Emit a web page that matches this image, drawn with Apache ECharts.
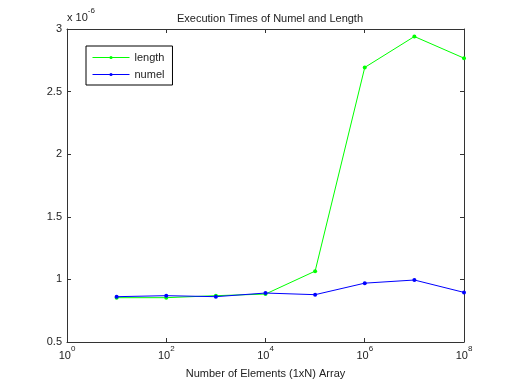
<!DOCTYPE html>
<html><head><meta charset="utf-8">
<script src="https://cdn.jsdelivr.net/npm/echarts@6/dist/echarts.min.js"></script>
<style>html,body{margin:0;padding:0;background:#fff}#c{width:512px;height:384px}</style>
</head><body><div id="c"></div>
<script>
// x values: number of elements N
var sizes = [1e1, 1e2, 1e3, 1e4, 1e5, 1e6, 1e7, 1e8];
// seconds, in units of 1e-6
var lengthTimes = [0.854, 0.854, 0.870, 0.883, 1.066, 2.693, 2.940, 2.767];
var numelTimes  = [0.862, 0.870, 0.862, 0.891, 0.878, 0.970, 0.995, 0.896];
var yTicks = [0.5, 1, 1.5, 2, 2.5, 3];

var font = 'Liberation Sans, Arial, sans-serif';
var txt = '#222';
function pairs(xs, ys){ return xs.map(function(x,i){ return [x, ys[i]]; }); }
function expLabel(v){
  var e = Math.round(Math.log(v)/Math.LN10);
  return '{b|10}{s|' + e + '}';
}
var rich = {
  b:{fontSize:11, fontFamily:font, color:txt, verticalAlign:'bottom', lineHeight:16},
  s:{fontSize:8, fontFamily:font, color:txt, verticalAlign:'top', lineHeight:16}
};
var axLine = {show:true, lineStyle:{color:'#333', width:1}};
var chart = echarts.init(document.getElementById('c'));
chart.setOption({
  animation:false,
  backgroundColor:'#fff',
  title:{text:'Execution Times of Numel and Length', left:265, textAlign:'center', top:8,
    textStyle:{fontSize:11, fontWeight:'normal', fontFamily:font, color:txt}},
  grid:{left:67, right:48, top:29, bottom:42},
  legend:{orient:'vertical', left:86, top:46, itemWidth:37, itemHeight:4, itemGap:6,
    padding:[6,8,5,6], borderColor:'#000', borderWidth:1, backgroundColor:'#fff',
    lineStyle:{width:1}, borderRadius:0,
    textStyle:{fontSize:11, fontFamily:font, color:txt},
    data:['length','numel']},
  xAxis:[{
    type:'log', logBase:10, min:1, max:1e8, interval:2,
    name:'Number of Elements (1xN) Array', nameLocation:'middle', nameGap:26,
    nameTextStyle:{fontSize:11, fontFamily:font, color:txt},
    axisLine:axLine, axisTick:{show:true, inside:true, length:4, lineStyle:{color:'#333'}},
    splitLine:{show:false}, minorTick:{show:false},
    axisLabel:{formatter:expLabel, rich:rich, margin:3}
  },{
    type:'log', logBase:10, min:1, max:1e8, interval:2, position:'top',
    axisLine:axLine, axisTick:{show:true, inside:true, length:4, lineStyle:{color:'#333'}},
    axisLabel:{show:false}, splitLine:{show:false}
  }],
  yAxis:[{
    type:'value', min:0.5, max:3, interval:0.5,
    name:'{b|x 10}{s|-6}', nameLocation:'end', nameGap:6,
    nameTextStyle:{align:'left', padding:[0,0,0,0], rich:{
      b:{fontSize:11, fontFamily:font, color:txt, verticalAlign:'bottom', lineHeight:16},
      s:{fontSize:8, fontFamily:font, color:txt, verticalAlign:'top', lineHeight:16}}},
    axisLine:axLine, axisTick:{show:true, inside:true, length:4, lineStyle:{color:'#333'}},
    splitLine:{show:false},
    axisLabel:{fontSize:11, fontFamily:font, color:txt, margin:5,
      formatter:function(v){ return String(v); }}
  },{
    type:'value', min:0.5, max:3, interval:0.5, position:'right',
    axisLine:axLine, axisTick:{show:true, inside:true, length:4, lineStyle:{color:'#333'}},
    axisLabel:{show:false}, splitLine:{show:false}
  }],
  series:[{
    name:'length', type:'line', data:pairs(sizes, lengthTimes),
    color:'#00ff00', symbol:'circle', symbolSize:4, showAllSymbol:true,
    lineStyle:{width:1, color:'#00ff00'}, itemStyle:{color:'#00ff00'}
  },{
    name:'numel', type:'line', data:pairs(sizes, numelTimes),
    color:'#0000ff', symbol:'circle', symbolSize:4, showAllSymbol:true,
    lineStyle:{width:1, color:'#0000ff'}, itemStyle:{color:'#0000ff'}
  }]
});
</script></body></html>
